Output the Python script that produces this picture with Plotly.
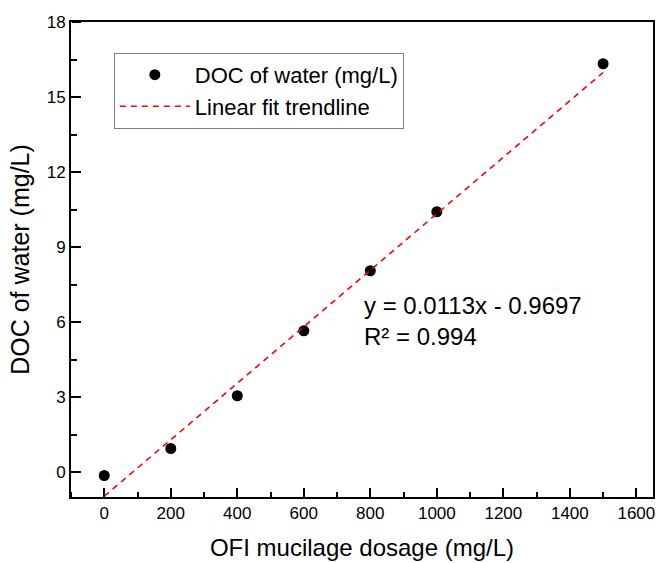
import plotly.graph_objects as go

dosage = [0, 200, 400, 600, 800, 1000, 1500]
doc = [-0.14, 0.94, 3.05, 5.65, 8.05, 10.41, 16.33]

slope = 0.0113
intercept = -0.9697
r2 = 0.994
fit_x = [0, 1500]
fit_y = [slope * v + intercept for v in fit_x]

x_range = [-100, 1650]
y_range = [-1, 18]
x_tick_step = 200
y_tick_step = 3

FONT = "Liberation Sans, Arial, sans-serif"

fig = go.Figure()
fig.add_trace(go.Scatter(
    x=dosage, y=doc, mode="markers", name="DOC of water (mg/L)",
    marker=dict(color="black", size=11),
))
fig.add_trace(go.Scatter(
    x=fit_x, y=fit_y, mode="lines", name="Linear fit trendline",
    line=dict(color="red", width=1.6, dash="6px,5px"),
))
# invisible companion trace so the tick-only overlay axes are drawn
fig.add_trace(go.Scatter(
    x=dosage, y=doc, mode="markers", xaxis="x2", yaxis="y2",
    marker=dict(opacity=0), showlegend=False, hoverinfo="skip",
))

fig.add_annotation(
    x=775, y=6.03, xref="x", yref="y", xanchor="left", yanchor="middle",
    text=f"y = {slope}x - {abs(intercept)}<br>R² = {r2}", showarrow=False,
    align="left", font=dict(family=FONT, size=24, color="black"),
)

fig.update_layout(
    xaxis=dict(
        range=x_range, dtick=x_tick_step,
        showline=True, linecolor="black", linewidth=2, mirror=True,
        ticks="inside", ticklen=9, tickwidth=2, tickcolor="black",
        showgrid=False, zeroline=False,
        tickfont=dict(family=FONT, size=17, color="black"),
        minor=dict(dtick=x_tick_step / 2, ticks="inside", ticklen=5),
        title=dict(text="OFI mucilage dosage (mg/L)", font=dict(family=FONT, size=24, color="black"), standoff=17),
    ),
    yaxis=dict(
        range=y_range, dtick=y_tick_step,
        showline=True, linecolor="black", linewidth=2, mirror=True,
        ticks="inside", ticklen=9, tickwidth=2, tickcolor="black",
        showgrid=False, zeroline=False,
        tickfont=dict(family=FONT, size=17, color="black"),
        minor=dict(dtick=y_tick_step / 2, ticks="inside", ticklen=5),
        title=dict(text="DOC of water (mg/L)", font=dict(family=FONT, size=25, color="black"), standoff=10),
    ),
    # tick-only overlay axes: placed on the bottom/left edges with outward-facing
    # sides flipped, so their ticks point into the plot area
    xaxis2=dict(
        overlaying="x", side="top", anchor="free", position=0,
        range=x_range, dtick=x_tick_step,
        ticks="outside", ticklen=9, tickwidth=2, tickcolor="black",
        minor=dict(dtick=x_tick_step / 2, ticks="outside", ticklen=5, tickwidth=2, tickcolor="black"),
        showticklabels=False, showline=False, showgrid=False, zeroline=False, automargin=False,
    ),
    yaxis2=dict(
        overlaying="y", side="right", anchor="free", position=0,
        range=y_range, dtick=y_tick_step,
        ticks="outside", ticklen=9, tickwidth=2, tickcolor="black",
        minor=dict(dtick=y_tick_step / 2, ticks="outside", ticklen=5, tickwidth=2, tickcolor="black"),
        showticklabels=False, showline=False, showgrid=False, zeroline=False, automargin=False,
    ),
    width=660, height=563,
    margin=dict(l=71, r=5, t=22, b=66),
    paper_bgcolor="white", plot_bgcolor="white",
    font=dict(family=FONT, color="black"),
    legend=dict(
        x=0.0736, y=0.935, xanchor="left", yanchor="top",
        bordercolor="#808080", borderwidth=1, bgcolor="white",
        font=dict(family=FONT, size=22, color="black"),
        tracegroupgap=0, itemwidth=70,
    ),
)

fig.write_html("out.html")
